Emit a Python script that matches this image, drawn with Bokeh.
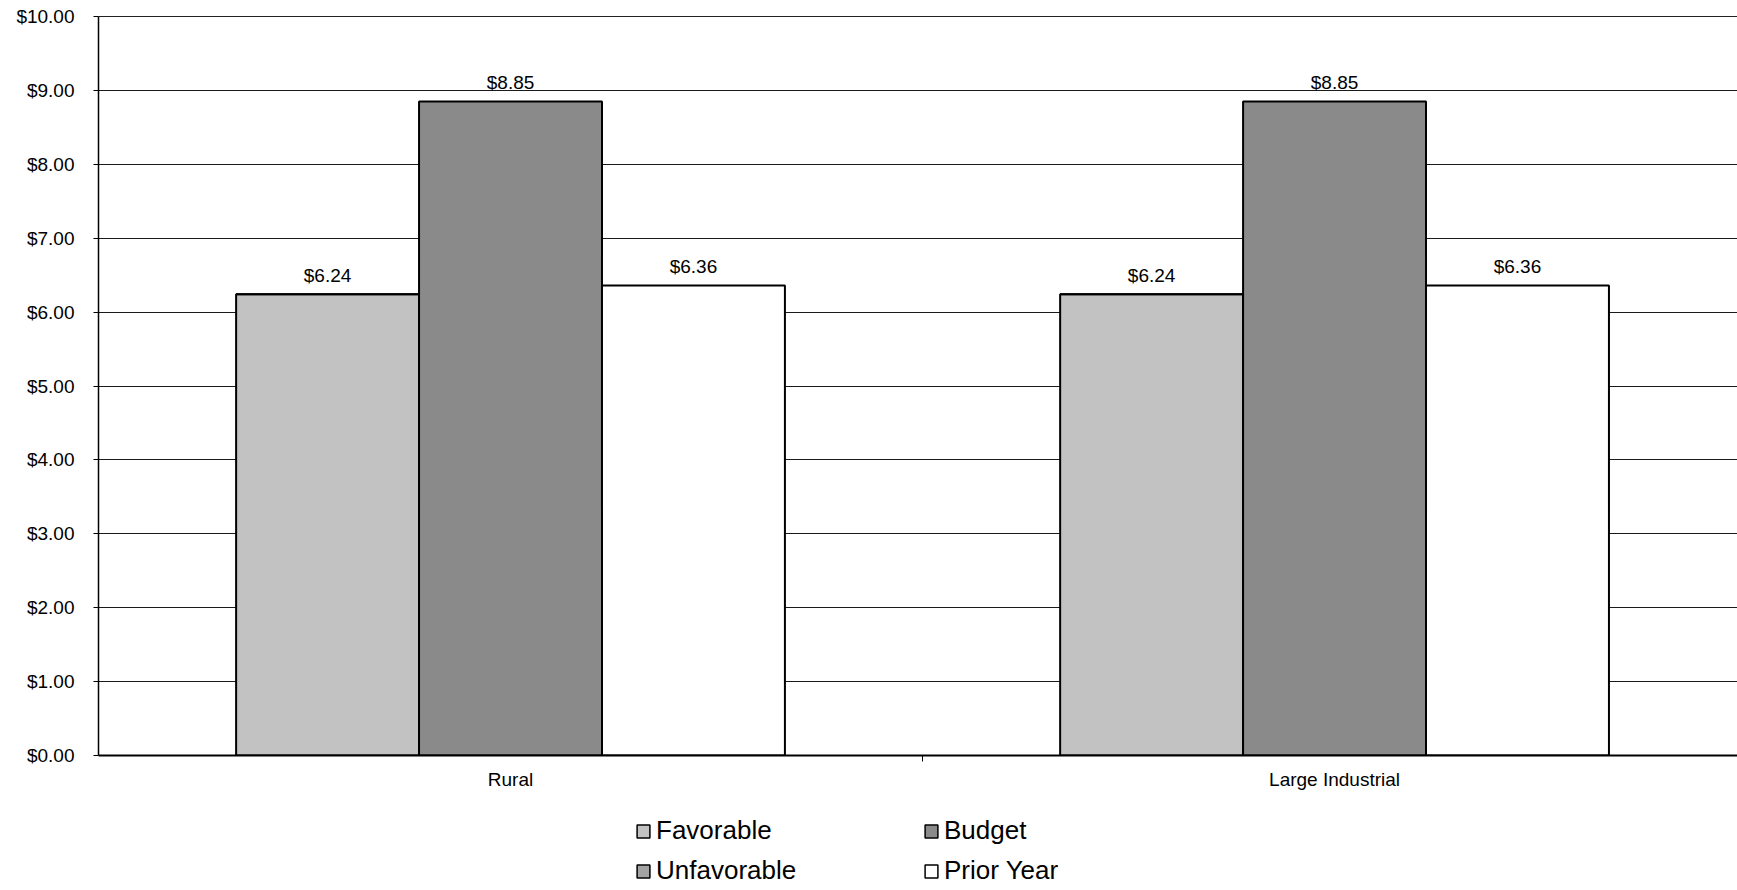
from bokeh.plotting import figure
from bokeh.layouts import column
from bokeh.models import (ColumnDataSource, Range1d, FixedTicker, NumeralTickFormatter,
                          Legend, LegendItem, LinearAxis)
from bokeh.core.properties import value
from bokeh.embed import file_html
from bokeh.resources import INLINE

# Cost per customer by class
categories = ["Rural", "Large Industrial"]
favorable = [6.24, 6.24]
unfavorable = [0.0, 0.0]
budget = [8.85, 8.85]
prior_year = [6.36, 6.36]
y_ticks = [0, 1, 2, 3, 4, 5, 6, 7, 8, 9, 10]

series_names = ["Favorable", "Unfavorable", "Budget", "Prior Year"]
series_colors = ["#c2c2c2", "#a3a3a3", "#8a8a8a", "white"]

FONT = "Liberation Sans"
BAR_W = 0.222
centers = [i + 0.5 for i in range(len(categories))]

p = figure(width=1737, height=810, output_backend="svg", toolbar_location=None,
           x_range=Range1d(0, 1.989), y_range=Range1d(0, 10),
           min_border_left=98, min_border_right=0, min_border_top=16,
           min_border_bottom=55, background_fill_color="white",
           border_fill_color="white")
p.outline_line_color = None

# grid: horizontal dollar lines only
p.xgrid.grid_line_color = None
p.ygrid.ticker = FixedTicker(ticks=y_ticks)
p.ygrid.grid_line_color = "#1a1a1a"
p.ygrid.grid_line_width = 1.2

# plain rule along the top of the plot area
top_rule = LinearAxis(ticker=FixedTicker(ticks=[]), major_label_text_font_size="0px",
                      major_tick_out=0, major_tick_in=0, minor_tick_out=0,
                      minor_tick_in=0, major_label_standoff=0,
                      axis_line_color="#222222", axis_line_width=1.2)
p.add_layout(top_rule, "above")

# y axis
p.yaxis.ticker = FixedTicker(ticks=y_ticks)
p.yaxis.formatter = NumeralTickFormatter(format="$0.00")
p.yaxis.major_label_text_font = FONT
p.yaxis.major_label_text_font_size = "19px"
p.yaxis.major_label_text_color = "black"
p.yaxis.major_tick_out = 5
p.yaxis.major_tick_in = 0
p.yaxis.minor_tick_line_color = None
p.yaxis.major_label_standoff = 19
p.yaxis.axis_line_color = "black"
p.yaxis.axis_line_width = 1.5

# x axis: labels at category centres, tick marks between categories
p.below[0].ticker = FixedTicker(ticks=centers, minor_ticks=[1])
p.below[0].major_label_overrides = {c: name for c, name in zip(centers, categories)}
p.below[0].major_label_text_font = FONT
p.below[0].major_label_text_font_size = "19px"
p.below[0].major_label_text_color = "black"
p.below[0].major_tick_out = 0
p.below[0].major_tick_in = 0
p.below[0].minor_tick_out = 6
p.below[0].minor_tick_in = 0
p.below[0].minor_tick_line_color = "black"
p.below[0].major_label_standoff = 7
p.below[0].axis_line_color = "black"
p.below[0].axis_line_width = 1.8

fav_x = [c - BAR_W for c in centers]
bud_x = centers
pri_x = [c + BAR_W for c in centers]

src_fav = ColumnDataSource(dict(x=fav_x, bottom=[0] * len(favorable), top=favorable,
                                label=[f"${v:.2f}" for v in favorable]))
src_unf = ColumnDataSource(dict(x=fav_x, bottom=favorable,
                                top=[f + u for f, u in zip(favorable, unfavorable)]))
src_bud = ColumnDataSource(dict(x=bud_x, bottom=[0] * len(budget), top=budget,
                                label=[f"${v:.2f}" for v in budget]))
src_pri = ColumnDataSource(dict(x=pri_x, bottom=[0] * len(prior_year), top=prior_year,
                                label=[f"${v:.2f}" for v in prior_year]))
sources = [src_fav, src_unf, src_bud, src_pri]

bar_style = dict(x="x", top="top", bottom="bottom", width=BAR_W,
                 line_color="black", line_width=2)
for src, color in zip(sources, series_colors):
    p.vbar(source=src, fill_color=color, **bar_style)

label_style = dict(text="label", text_align="center", text_baseline="alphabetic",
                   y_offset=-19, text_font=value(FONT), text_font_size="19px",
                   text_color="black")
for src in (src_fav, src_bud, src_pri):
    p.text(x="x", y="top", source=src, **label_style)

# legend strip under the chart
leg_fig = figure(width=1737, height=80, output_backend="svg", toolbar_location=None,
                 x_range=Range1d(0, 1.989), y_range=Range1d(0, 10),
                 x_axis_location=None, y_axis_location=None,
                 min_border_left=98, min_border_right=0, min_border_top=0,
                 min_border_bottom=0, border_fill_color="white",
                 background_fill_color="white")
leg_fig.outline_line_color = None
leg_fig.grid.grid_line_color = None

items = []
for name, src, color in zip(series_names, sources, series_colors):
    r = leg_fig.vbar(source=src, fill_color=color, x="x", top="top", bottom="bottom",
                     width=BAR_W, line_color="black", line_width=1.5, visible=False)
    items.append(LegendItem(label=name, renderers=[r]))

legend = Legend(items=items, ncols=2, location=(537, 4))
legend.label_text_font = FONT
legend.label_text_font_size = "26px"
legend.label_text_color = "black"
legend.glyph_width = 16
legend.glyph_height = 16
legend.label_standoff = 5
legend.label_width = 258
legend.label_height = 30
legend.spacing = 9
legend.padding = 0
legend.margin = 0
legend.border_line_color = None
legend.background_fill_alpha = 0
legend.inactive_fill_alpha = 0
leg_fig.add_layout(legend, "center")

open("out.html", "w").write(file_html(column(p, leg_fig, spacing=0), INLINE))
